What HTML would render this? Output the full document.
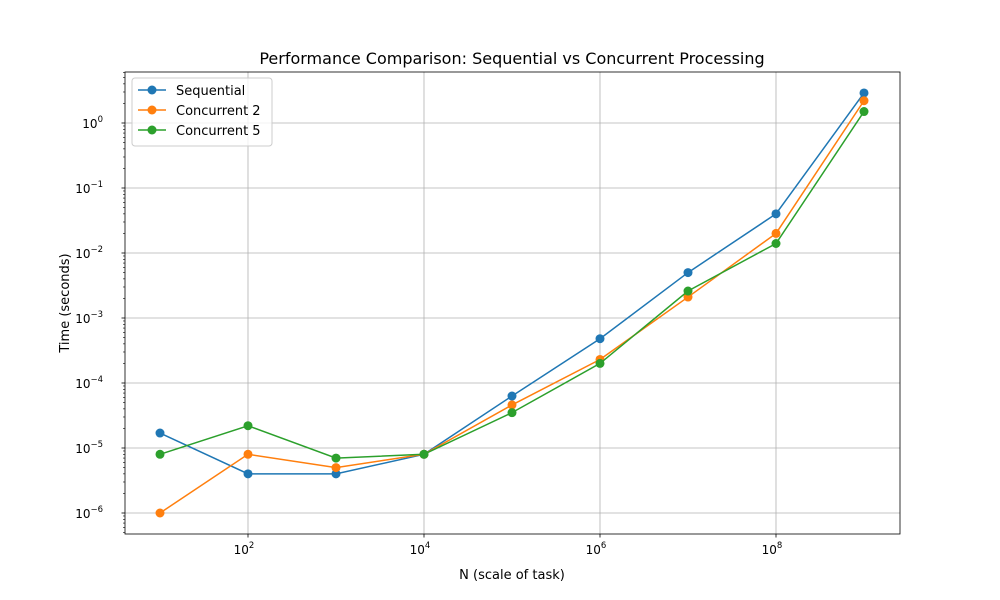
<!DOCTYPE html>
<html><head><meta charset="utf-8"><style>body{margin:0;background:#fff}svg{display:block;font-family:"DejaVu Sans","Liberation Sans",sans-serif}</style></head>
<body>
<svg id="chart" width="1000" height="600" viewBox="0 0 1000 600">
<rect width="1000" height="600" fill="#fff"/>
<g id="grid"></g><g id="axes"></g><g id="series"></g>
<text x="512" y="64" text-anchor="middle" font-size="16">Performance Comparison: Sequential vs Concurrent Processing</text>
<text x="512" y="579" text-anchor="middle" font-size="13">N (scale of task)</text>
<text transform="translate(69,303) rotate(-90)" text-anchor="middle" font-size="13">Time (seconds)</text>
<g>
<rect x="132" y="78" width="140" height="68" rx="3" fill="#fff" fill-opacity="0.8" stroke="#ccc"/>
<line x1="138" y1="90" x2="166" y2="90" stroke="#1f77b4" stroke-width="1.5"/><circle cx="152" cy="90" r="4.5" fill="#1f77b4"/>
<text x="176" y="95" font-size="13">Sequential</text>
<line x1="138" y1="110" x2="166" y2="110" stroke="#ff7f0e" stroke-width="1.5"/><circle cx="152" cy="110" r="4.5" fill="#ff7f0e"/>
<text x="176" y="115" font-size="13">Concurrent 2</text>
<line x1="138" y1="130" x2="166" y2="130" stroke="#2ca02c" stroke-width="1.5"/><circle cx="152" cy="130" r="4.5" fill="#2ca02c"/>
<text x="176" y="135" font-size="13">Concurrent 5</text>
</g>
</svg>
<script>
const categories=[1e1,1e2,1e3,1e4,1e5,1e6,1e7,1e8,1e9];
const sequential=[1.7e-5,4e-6,4e-6,8e-6,6.3e-5,4.8e-4,5e-3,0.04,2.9];
const concurrent2=[1e-6,8e-6,5e-6,8e-6,4.6e-5,2.3e-4,2.1e-3,0.02,2.2];
const concurrent5=[8e-6,2.2e-5,7e-6,8e-6,3.5e-5,2e-4,2.6e-3,0.014,1.5];
const xTickExps=[2,4,6,8];
const yTickExps=[-6,-5,-4,-3,-2,-1,0];
const L=125,R=900,T=72,B=534;
const x=v=>160+(Math.log10(v)-1)*88;
const y=v=>123-Math.log10(v)*65;
const NS="http://www.w3.org/2000/svg";
function mk(t,a,p){const e=document.createElementNS(NS,t);for(const k in a)e.setAttribute(k,a[k]);p.appendChild(e);return e;}
const grid=document.getElementById('grid'),axes=document.getElementById('axes'),ser=document.getElementById('series');
xTickExps.forEach(p=>{const X=x(Math.pow(10,p));
 const g=mk('line',{x1:X,x2:X,y1:T,y2:B,stroke:'#b0b0b0','stroke-width':0.8},grid);
 
 mk('line',{x1:X,x2:X,y1:B,y2:B+3.5,stroke:'#000','stroke-width':0.8},axes);
 const t=mk('text',{x:X-4,y:B+20,'text-anchor':'middle','font-size':12},axes);
 
 t.textContent='10';const s=mk('tspan',{dy:-6,'font-size':8.5},t);s.textContent=p;});
yTickExps.forEach(p=>{const Y=y(Math.pow(10,p));
 const g=mk('line',{x1:L,x2:R,y1:Y,y2:Y,stroke:'#b0b0b0','stroke-width':0.8},grid);
 
 mk('line',{x1:L-3.5,x2:L,y1:Y,y2:Y,stroke:'#000','stroke-width':0.8},axes);
 const t=mk('text',{x:L-22,y:Y+5,'text-anchor':'end','font-size':12},axes);
 
 t.textContent='10';const s=mk('tspan',{dy:-6,'font-size':8.5},t);s.textContent=(p<0?'\u2212':'')+Math.abs(p);});
for(let p=-7;p<=0;p++)for(let m=2;m<10;m++){const Y=y(m*Math.pow(10,p));if(Y>T&&Y<B)mk('line',{x1:L-2,x2:L,y1:Y,y2:Y,stroke:'#000','stroke-width':0.6},axes);}
const frame=mk('rect',{x:L,y:T,width:R-L,height:B-T,fill:'none',stroke:'#000','stroke-width':0.8},axes);

[[sequential,'#1f77b4','sequential'],[concurrent2,'#ff7f0e','concurrent-2'],[concurrent5,'#2ca02c','concurrent-5']].forEach(([d,c,n])=>{
 const pl=mk('polyline',{points:d.map((v,i)=>x(categories[i])+','+y(v)).join(' '),fill:'none',stroke:c,'stroke-width':1.5},ser);
 
 d.forEach((v,i)=>{const pt=mk('circle',{cx:x(categories[i]),cy:y(v),r:4.5,fill:c},ser);
  });});
</script>
</body></html>
